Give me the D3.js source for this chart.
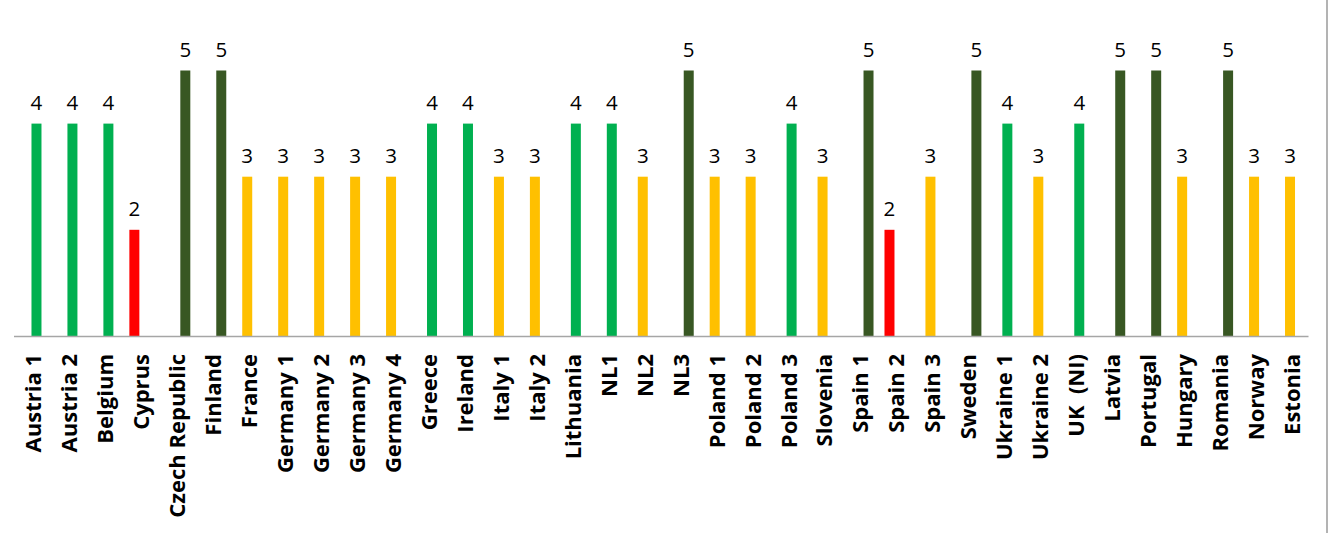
<!DOCTYPE html>
<html>
<head>
<meta charset="utf-8">
<script src="https://cdn.jsdelivr.net/npm/d3@7"></script>
<style>
    html, body { margin: 0; padding: 0; background: #fff; }
    svg { display: block; }
    .value-label { font-family: 'Open Sans', sans-serif; font-size: 20.5px; fill: #000; }
    .cat-label { font-family: 'Open Sans', sans-serif; font-size: 22px; font-weight: bold; fill: #000; white-space: pre; }
</style>
</head>
<body>
<svg id="chart"></svg>
<script>
'use strict';

var categories = [
    'Austria 1', 'Austria 2', 'Belgium', 'Cyprus', 'Czech Republic', 'Finland',
    'France', 'Germany 1', 'Germany 2', 'Germany 3', 'Germany 4', 'Greece',
    'Ireland', 'Italy 1', 'Italy 2', 'Lithuania', 'NL1', 'NL2',
    'NL3', 'Poland 1', 'Poland 2', 'Poland 3', 'Slovenia', 'Spain 1',
    'Spain 2', 'Spain 3', 'Sweden', 'Ukraine 1', 'Ukraine 2', 'UK  (NI)',
    'Latvia', 'Portugal', 'Hungary', 'Romania', 'Norway', 'Estonia'
];

var scores = [
    4, 4, 4, 2, 5, 5,
    3, 3, 3, 3, 3, 4,
    4, 3, 3, 4, 4, 3,
    5, 3, 3, 4, 3, 5,
    2, 3, 5, 4, 3, 4,
    5, 5, 3, 5, 3, 3
];

// one series per score level, only one has a value per category
var seriesKeys = [1, 2, 3, 4, 5];
var seriesColors = ['#7f7f7f', '#ff0000', '#ffc000', '#00b050', '#385723'];

var width = 1333,
    height = 533,
    axisLeft = 13.5,
    axisRight = 1308,
    baseY = 336,
    topY = 17.4;

var data = categories.map(function (c, i) {
    return { name: c, score: scores[i] };
});

var svg = d3.select('#chart')
    .attr('width', width)
    .attr('height', height);

var x = d3.scaleBand()
    .domain(categories)
    .range([axisLeft, axisRight])
    .padding(0);

var barWidth = x.bandwidth() * 0.278;

var xSeries = d3.scalePoint()
    .domain(seriesKeys)
    .range([-barWidth, barWidth]);

var y = d3.scaleLinear()
    .domain([0, 6])
    .range([baseY, topY]);

var color = d3.scaleOrdinal()
    .domain(seriesKeys)
    .range(seriesColors);

function barCenter(d) {
    return x(d.name) + x.bandwidth() / 2 + xSeries(d.score);
}

svg.append('g')
    .attr('class', 'bars')
    .selectAll('rect')
    .data(data)
    .enter()
    .append('rect')
    .attr('x', function (d) { return barCenter(d) - barWidth / 2; })
    .attr('y', function (d) { return y(d.score); })
    .attr('width', barWidth)
    .attr('height', function (d) { return y(0) - y(d.score); })
    .attr('fill', function (d) { return color(d.score); });

svg.append('g')
    .attr('class', 'values')
    .selectAll('text')
    .data(data)
    .enter()
    .append('text')
    .attr('class', 'value-label')
    .attr('x', barCenter)
    .attr('y', function (d) { return y(d.score) - 14; })
    .attr('text-anchor', 'middle')
    .text(function (d) { return d.score; });

// category axis
var xAxis = d3.axisBottom(x).tickSize(0).tickPadding(0);

var axisG = svg.append('g')
    .attr('transform', 'translate(0,' + baseY + ')')
    .call(xAxis);

axisG.select('.domain')
    .attr('stroke', '#a6a6a6')
    .attr('stroke-width', 1.5);

axisG.selectAll('.tick text')
    .attr('class', 'cat-label')
    .attr('font-family', null)
    .attr('font-size', null)
    .attr('fill', null)
    .attr('text-anchor', 'end')
    .attr('transform', 'rotate(-90)')
    .attr('x', -18)
    .attr('y', 0)
    .attr('dy', '0.45em');

// chart frame edge on the right
svg.append('line')
    .attr('x1', 1327)
    .attr('x2', 1327)
    .attr('y1', 0)
    .attr('y2', height)
    .attr('stroke', '#9a9a9a')
    .attr('stroke-width', 1.5);
</script>
</body>
</html>
